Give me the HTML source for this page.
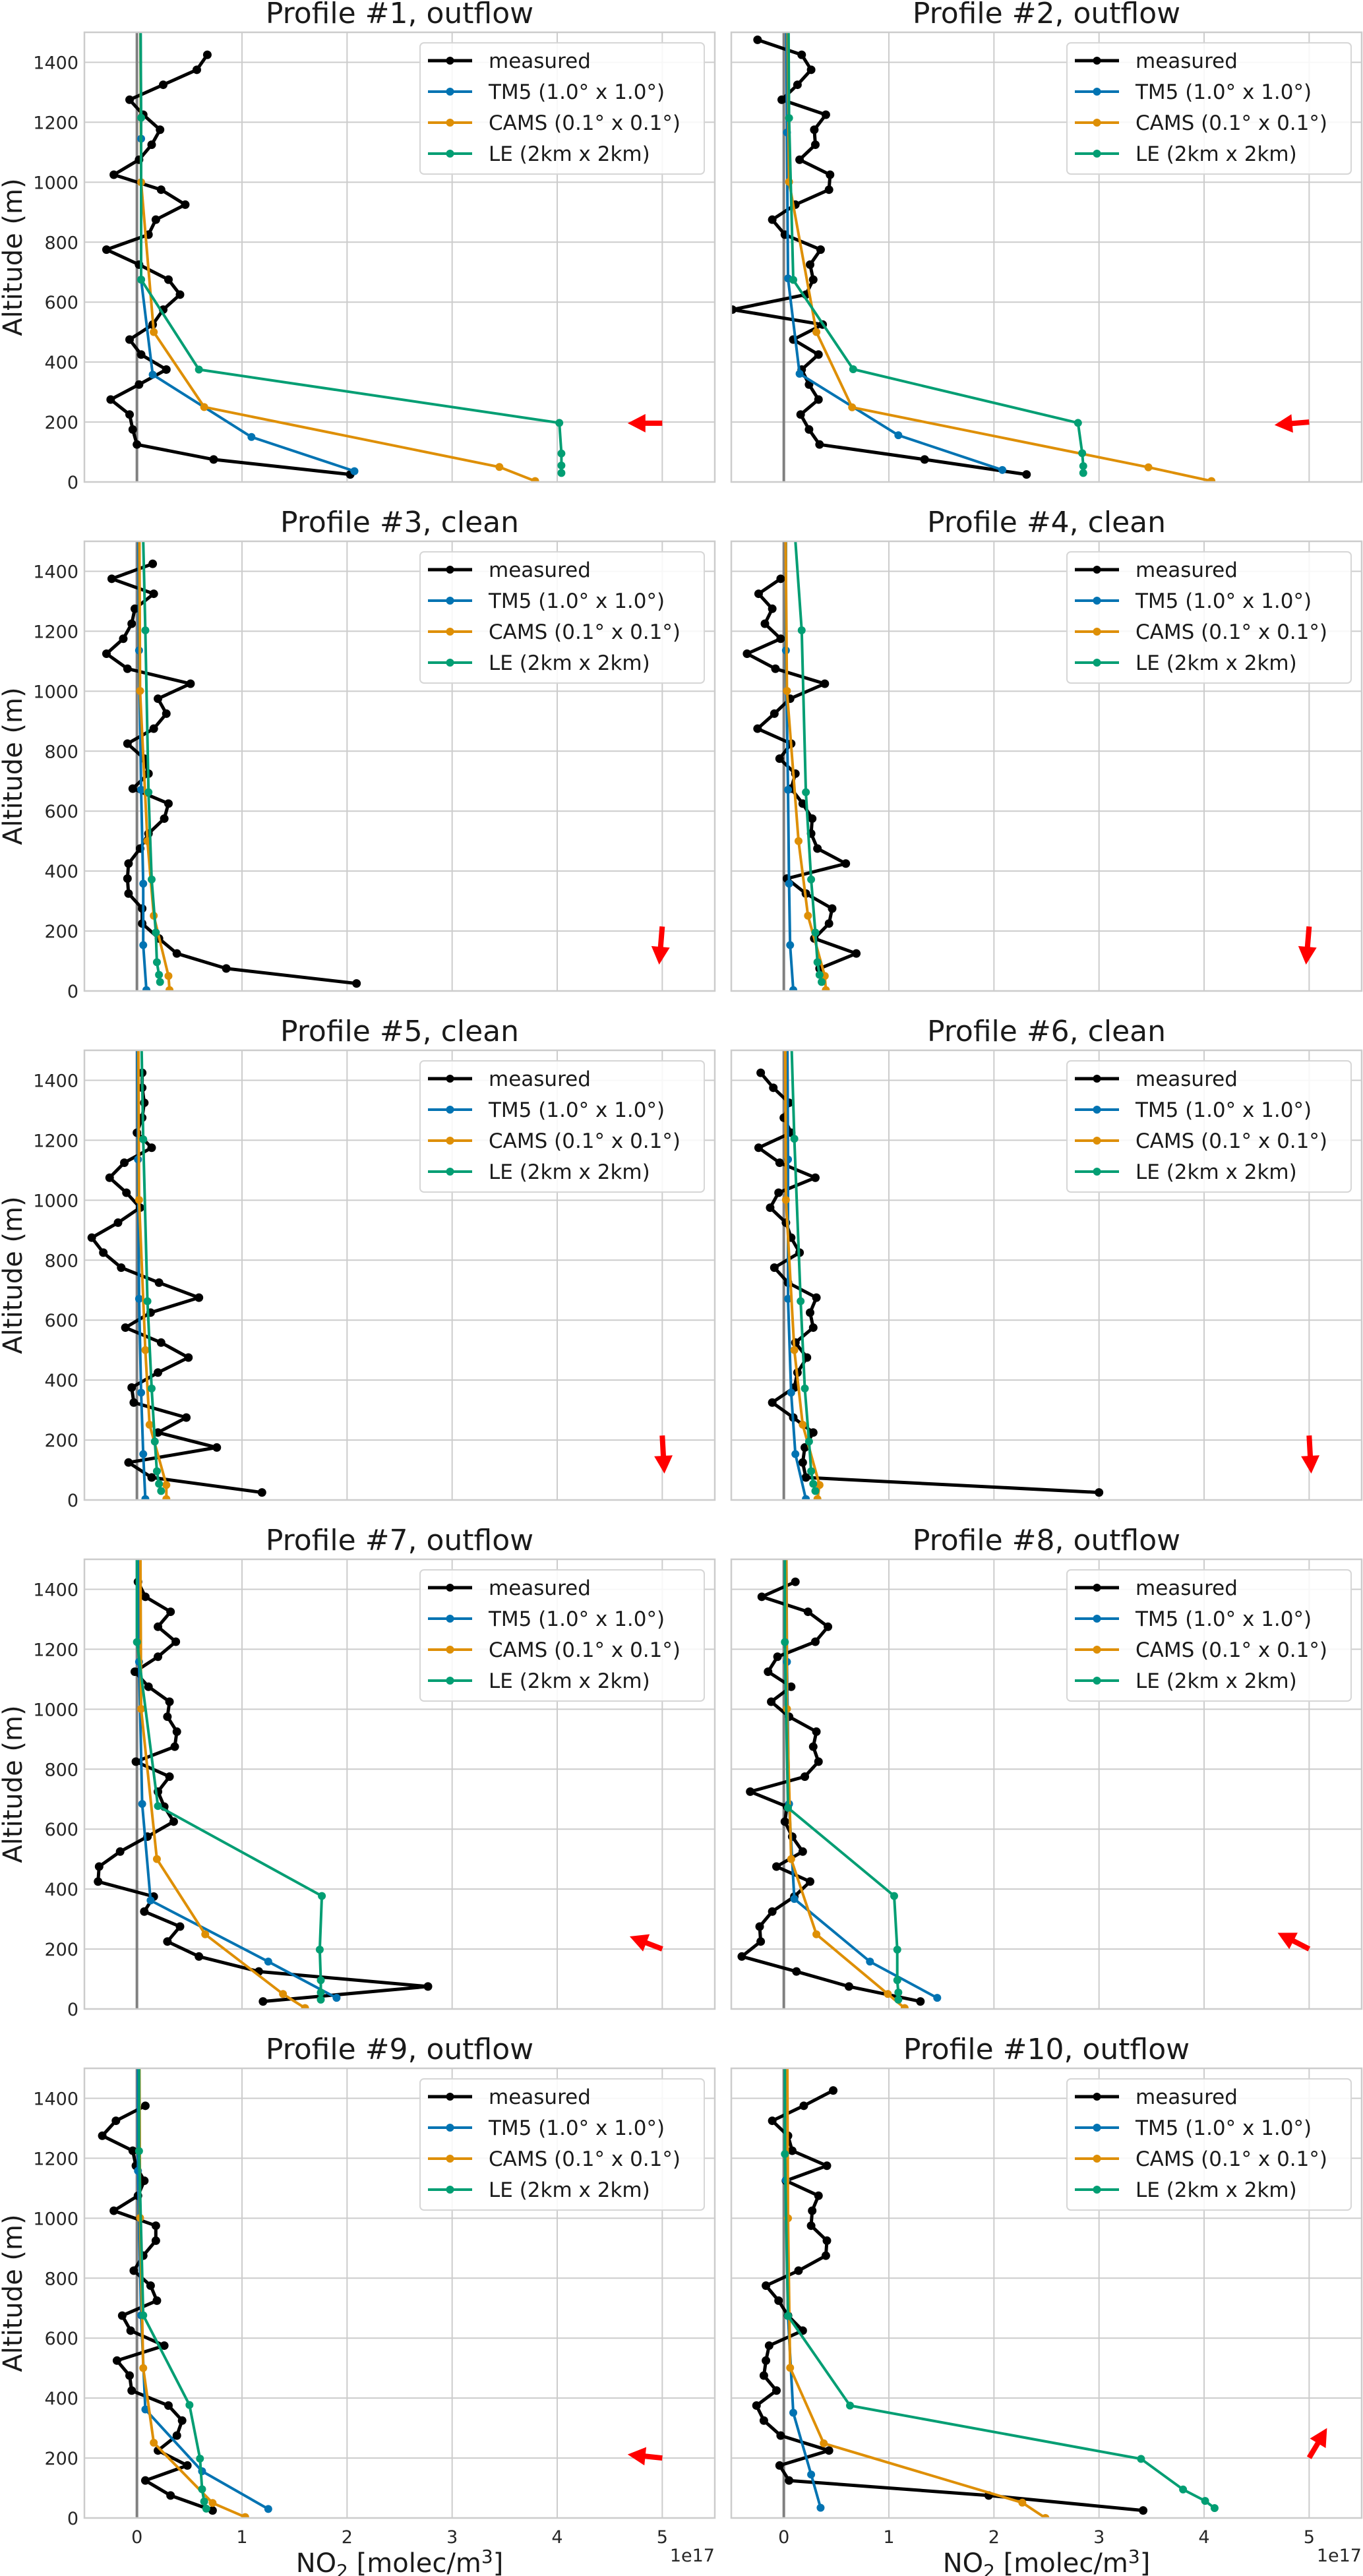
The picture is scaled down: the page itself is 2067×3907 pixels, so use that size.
<!DOCTYPE html>
<html><head><meta charset="utf-8"><title>NO2 profiles</title>
<style>
html,body{margin:0;padding:0;background:#fff;}
svg{display:block;font-family:"DejaVu Sans","Liberation Sans",sans-serif;}
</style></head>
<body>
<svg id="chart" xmlns="http://www.w3.org/2000/svg" width="2067" height="3907" viewBox="0 0 2067 3907"></svg>
<script>
// ---------- data ----------
const panelTitles = ["Profile #1, outflow","Profile #2, outflow","Profile #3, clean","Profile #4, clean","Profile #5, clean","Profile #6, clean","Profile #7, outflow","Profile #8, outflow","Profile #9, outflow","Profile #10, outflow"];
const xTicks = [0,1,2,3,4,5];
const yTicks = [0,200,400,600,800,1000,1200,1400];
const seriesNames = ["measured","TM5 (1.0\u00b0 x 1.0\u00b0)","CAMS (0.1\u00b0 x 0.1\u00b0)","LE (2km x 2km)"];
const seriesColors = ["#000000","#0173B2","#DE8F05","#029E73"];

const alt50a = [1425,1375,1325,1275,1225,1175,1125,1075,1025,975,925,875,825,775,725,675,625,575,525,475,425,375,325,275,225,175,125,75,25];

const measuredAlt = [
 alt50a,
 [1475,1425,1375,1325,1275,1225,1175,1125,1075,1025,975,925,875,825,775,725,675,625,575,525,475,425,375,325,275,225,175,125,75,25],
 alt50a,
 [1375,1325,1275,1225,1175,1125,1075,1025,975,925,875,825,775,725,675,625,575,525,475,425,375,325,275,225,175,125,75],
 alt50a, alt50a, alt50a, alt50a,
 [1375,1325,1275,1225,1175,1125,1075,1025,975,925,875,825,775,725,675,625,575,525,475,425,375,325,275,225,175,125,75,25],
 [1426,1375,1325,1275,1225,1175,1125,1075,1025,975,925,875,825,775,725,675,625,575,525,475,425,375,325,275,225,175,125,75,25]
];
const measuredVal = [
 [0.67,0.57,0.25,-0.07,0.06,0.22,0.14,0.02,-0.22,0.23,0.46,0.18,0.11,-0.29,0.02,0.30,0.41,0.25,0.15,-0.07,0.04,0.28,0.02,-0.25,-0.07,-0.04,0.0,0.73,2.03],
 [-0.25,0.17,0.26,0.13,-0.02,0.40,0.29,0.30,0.15,0.44,0.43,0.11,-0.11,0.01,0.35,0.25,0.28,0.21,-0.49,0.37,0.09,0.33,0.17,0.24,0.33,0.16,0.24,0.34,1.34,2.31],
 [0.15,-0.24,0.16,-0.02,-0.05,-0.13,-0.29,-0.09,0.51,0.20,0.28,0.16,-0.09,0.07,0.11,-0.04,0.30,0.26,0.11,0.03,-0.08,-0.09,-0.08,0.05,0.05,0.21,0.38,0.85,2.09],
 [-0.03,-0.24,-0.11,-0.18,-0.03,-0.35,-0.08,0.39,0.06,-0.09,-0.25,0.07,-0.04,0.11,0.07,0.18,0.27,0.26,0.32,0.59,0.03,0.21,0.46,0.43,0.29,0.69,0.34],
 [0.05,0.05,0.07,0.05,0.0,0.14,-0.12,-0.26,-0.10,0.03,-0.18,-0.43,-0.32,-0.15,0.21,0.59,0.13,-0.11,0.23,0.49,0.20,-0.05,-0.03,0.47,0.20,0.76,-0.08,0.14,1.19],
 [-0.22,-0.10,0.05,0.0,0.07,-0.24,-0.04,0.30,-0.05,-0.13,0.02,0.07,0.15,-0.09,0.04,0.31,0.25,0.28,0.11,0.22,0.13,0.10,-0.11,0.09,0.28,0.20,0.18,0.21,3.0],
 [0.01,0.08,0.32,0.20,0.37,0.20,-0.02,0.11,0.31,0.29,0.38,0.36,-0.01,0.31,0.20,0.26,0.35,0.10,-0.16,-0.36,-0.37,0.16,0.07,0.41,0.29,0.59,1.16,2.77,1.20],
 [0.11,-0.21,0.23,0.42,0.30,-0.06,-0.15,0.07,-0.12,0.05,0.31,0.28,0.33,0.20,-0.32,0.03,0.01,0.08,0.18,-0.07,0.25,0.10,-0.11,-0.23,-0.22,-0.40,0.12,0.62,1.30],
 [0.08,-0.20,-0.33,-0.04,-0.01,0.07,0.01,-0.22,0.18,0.18,0.06,-0.03,0.13,0.19,-0.14,-0.06,0.26,-0.19,-0.07,-0.05,0.30,0.43,0.38,0.20,0.48,0.08,0.32,0.72],
 [0.47,0.19,-0.11,0.04,0.08,0.41,0.02,0.33,0.27,0.26,0.41,0.40,0.14,-0.17,-0.05,0.04,0.18,-0.14,-0.17,-0.19,-0.07,-0.26,-0.19,-0.03,0.43,-0.04,0.05,1.95,3.42]
];
const tm5Alt = [
 [1800,1145,675,358,150,36],[1800,1166,679,361,156,40],[1800,1136,671,358,153,3],[1800,1136,671,358,153,3],[1800,1136,671,358,153,3],
 [1800,1136,671,358,153,3],[1800,1158,684,362,158,37],[1800,1158,684,367,158,37],[1800,1158,676,362,156,30],[1800,1127,674,351,145,34]
];
const tm5Val = [
 [0.03,0.04,0.04,0.15,1.09,2.07],[0.02,0.03,0.04,0.15,1.09,2.08],[0.01,0.02,0.04,0.06,0.06,0.09],[0.02,0.02,0.04,0.05,0.06,0.09],[0.0,0.01,0.02,0.04,0.06,0.08],
 [0.03,0.04,0.04,0.07,0.11,0.21],[0.02,0.02,0.05,0.13,1.25,1.90],[0.02,0.03,0.05,0.10,0.82,1.46],[0.01,0.01,0.04,0.08,0.62,1.25],[0.02,0.02,0.04,0.09,0.26,0.35]
];
const camsAlt = [
 [1800,1000,500,250,50,3],[1800,1001,500,249,49,3],[1800,1001,500,251,50,3],[1800,1001,500,251,50,3],[1800,1001,500,251,50,3],
 [1800,1001,500,251,50,3],[1800,1001,500,249,50,3],[1800,1001,500,249,50,3],[1800,1001,500,251,50,3],[1800,1000,501,249,51,0]
];
const camsVal = [
 [0.03,0.04,0.16,0.64,3.45,3.79],[0.03,0.05,0.31,0.65,3.47,4.07],[0.02,0.03,0.10,0.16,0.30,0.31],[0.01,0.03,0.14,0.23,0.39,0.40],[0.01,0.02,0.08,0.12,0.28,0.28],
 [0.01,0.02,0.10,0.18,0.34,0.32],[0.03,0.04,0.19,0.65,1.39,1.60],[0.02,0.03,0.07,0.31,0.99,1.15],[0.02,0.03,0.06,0.16,0.72,1.03],[0.03,0.04,0.06,0.38,2.27,2.49]
];
const leAlt = [
 [1800,1215,675,375,197,95,55,30],[1800,1214,674,376,197,96,53,30],[1800,1203,663,372,195,96,54,30],[1800,1203,663,372,195,96,54,30],[1800,1203,663,372,195,96,54,30],
 [1800,1205,663,372,195,96,54,30],[1800,1224,677,377,198,96,55,31],[1800,1224,671,377,198,96,55,31],[1800,1224,676,377,198,96,55,31],[1800,1214,674,375,197,95,57,33]
];
const leVal = [
 [0.03,0.04,0.04,0.59,4.02,4.04,4.04,4.04],[0.04,0.05,0.09,0.66,2.80,2.84,2.85,2.85],[0.04,0.08,0.11,0.14,0.18,0.19,0.21,0.22],[0.05,0.17,0.21,0.26,0.30,0.32,0.34,0.36],[0.03,0.06,0.10,0.14,0.17,0.19,0.21,0.23],
 [0.05,0.10,0.16,0.20,0.24,0.26,0.28,0.30],[0.0,0.0,0.20,1.76,1.74,1.75,1.75,1.75],[0.01,0.01,0.04,1.05,1.08,1.08,1.09,1.09],[0.02,0.02,0.06,0.50,0.60,0.62,0.64,0.66],[0.01,0.01,0.04,0.63,3.40,3.80,4.01,4.10]
];
// wind arrows: tail (x, alt) and tip (x, alt)
const arrowTailX = [5.0,5.0,5.0,5.0,5.0,5.0,5.0,5.0,5.0,5.0];
const arrowTailAlt = [196,200,215,215,215,215,200,200,200,201];
const arrowTipX = [4.67,4.67,4.97,4.97,5.02,5.02,4.69,4.70,4.67,5.17];
const arrowTipAlt = [196,190,88,88,88,88,242,254,212,300];

// ---------- layout ----------
const NS = "http://www.w3.org/2000/svg";
const svg = document.getElementById("chart");
const PW = 956, PH = 682, X0 = -0.5, X1 = 5.5, Y0 = 0, Y1 = 1500;
function mk(tag, attrs, parent){const e=document.createElementNS(NS,tag);for(const k in attrs)e.setAttribute(k,attrs[k]);(parent||svg).appendChild(e);return e;}

for (let i = 0; i < 10; i++) {
  const col = i % 2, row = Math.floor(i / 2);
  const L = 128 + col * 981, T = 49 + row * 772;
  const xs = v => L + (v - X0) / (X1 - X0) * PW;
  const ys = a => T + (Y1 - a) / (Y1 - Y0) * PH;
  const g = mk("g", {});
  
  

  const title = mk("text", {x: L + PW/2, y: T - 14, "font-size": 44, "text-anchor": "middle", fill: "#1a1a1a"}, g);
  title.textContent = panelTitles[i];
  
  

  const clip = mk("clipPath", {id: "clip" + i}, g);
  mk("rect", {x: L, y: T, width: PW, height: PH}, clip);

  for (const t of xTicks) {
    const gl = mk("line", {x1: xs(t), x2: xs(t), y1: T, y2: T + PH, stroke: "#cccccc", "stroke-width": 2}, g);
    
    
  }
  for (const t of yTicks) {
    const gl = mk("line", {x1: L, x2: L + PW, y1: ys(t), y2: ys(t), stroke: "#cccccc", "stroke-width": 2}, g);
    
    
    if (col === 0) {
      const tl = mk("text", {x: L - 9, y: ys(t) + 10, "font-size": 27, "text-anchor": "end", fill: "#262626"}, g);
      tl.textContent = t;
      
      
    }
  }
  if (row === 4) {
    for (const t of xTicks) {
      const tl = mk("text", {x: xs(t), y: T + PH + 38, "font-size": 27, "text-anchor": "middle", fill: "#262626"}, g);
      tl.textContent = t;
      
      
    }
    const off = mk("text", {x: L + PW, y: T + PH + 66, "font-size": 27, "text-anchor": "end", fill: "#262626"}, g);
    off.textContent = "1e17";
    
    
    const xl = mk("text", {x: L + PW/2, y: T + PH + 82, "font-size": 40, "text-anchor": "middle", fill: "#1a1a1a"}, g);
    xl.innerHTML = 'NO<tspan font-size="28" dy="8">2</tspan><tspan dy="-8"> [molec/m</tspan><tspan font-size="28" dy="-14">3</tspan><tspan dy="14">]</tspan>';
    
    
  }
  if (col === 0) {
    const yl = mk("text", {x: 0, y: 0, "font-size": 40, "text-anchor": "middle", fill: "#1a1a1a", transform: "translate(33," + (T + PH/2) + ") rotate(-90)"}, g);
    yl.textContent = "Altitude (m)";
    
    
  }

  const plot = mk("g", {"clip-path": "url(#clip" + i + ")"}, g);
  const zl = mk("line", {x1: xs(0), x2: xs(0), y1: T, y2: T + PH, stroke: "#808080", "stroke-width": 4}, plot);
  
  

  const sets = [[measuredAlt[i], measuredVal[i]], [tm5Alt[i], tm5Val[i]], [camsAlt[i], camsVal[i]], [leAlt[i], leVal[i]]];
  const snames = ["measured-series","tm5-series","cams-series","le-series"];
  for (let s = 0; s < 4; s++) {
    const [A, V] = sets[s];
    const sg = mk("g", {}, plot);
    
    
    const pts = A.map((a, k) => xs(V[k]).toFixed(1) + "," + ys(a).toFixed(1)).join(" ");
    mk("polyline", {points: pts, fill: "none", stroke: seriesColors[s], "stroke-width": s === 0 ? 5 : 4, "stroke-linejoin": "round"}, sg);
    for (let k = 0; k < A.length; k++) {
      const c = mk("circle", {cx: xs(V[k]), cy: ys(A[k]), r: s === 0 ? 6.5 : 6, fill: seriesColors[s]}, sg);
      
      
    }
  }

  {
    const x1 = xs(arrowTailX[i]), y1 = ys(arrowTailAlt[i]), x2 = xs(arrowTipX[i]), y2 = ys(arrowTipAlt[i]);
    const dx = x2 - x1, dy = y2 - y1, len = Math.hypot(dx, dy), ux = dx/len, uy = dy/len, nx = -uy, ny = ux;
    const hl = Math.min(27, len*0.55), hw = 14, sw = 4;
    const bx = x2 - ux*hl, by = y2 - uy*hl;
    const p = [[x1+nx*sw,y1+ny*sw],[bx+nx*sw,by+ny*sw],[bx+nx*hw,by+ny*hw],[x2,y2],[bx-nx*hw,by-ny*hw],[bx-nx*sw,by-ny*sw],[x1-nx*sw,y1-ny*sw]];
    const ar = mk("polygon", {points: p.map(q => q[0].toFixed(1)+","+q[1].toFixed(1)).join(" "), fill: "#ff0000"}, plot);
    
    
  }

  const fr = mk("rect", {x: L, y: T, width: PW, height: PH, fill: "none", stroke: "#cccccc", "stroke-width": 2.5}, g);
  
  

  const lg = mk("g", {}, g);
  
  
  mk("rect", {x: L + 509, y: T + 16, width: 431, height: 199, rx: 6, fill: "#ffffff", "fill-opacity": 0.85, stroke: "#d6d6d6", "stroke-width": 2}, lg);
  for (let s = 0; s < 4; s++) {
    const ry = T + 43 + s * 47;
    const le = mk("g", {}, lg);
    
    
    mk("line", {x1: L + 521, x2: L + 588, y1: ry, y2: ry, stroke: seriesColors[s], "stroke-width": s === 0 ? 5 : 4}, le);
    mk("circle", {cx: L + 554.5, cy: ry, r: 6, fill: seriesColors[s]}, le);
    const lt = mk("text", {x: L + 613, y: ry + 11, "font-size": 31, fill: "#1a1a1a"}, le);
    lt.textContent = seriesNames[s];
  }
}
</script>
</body></html>
